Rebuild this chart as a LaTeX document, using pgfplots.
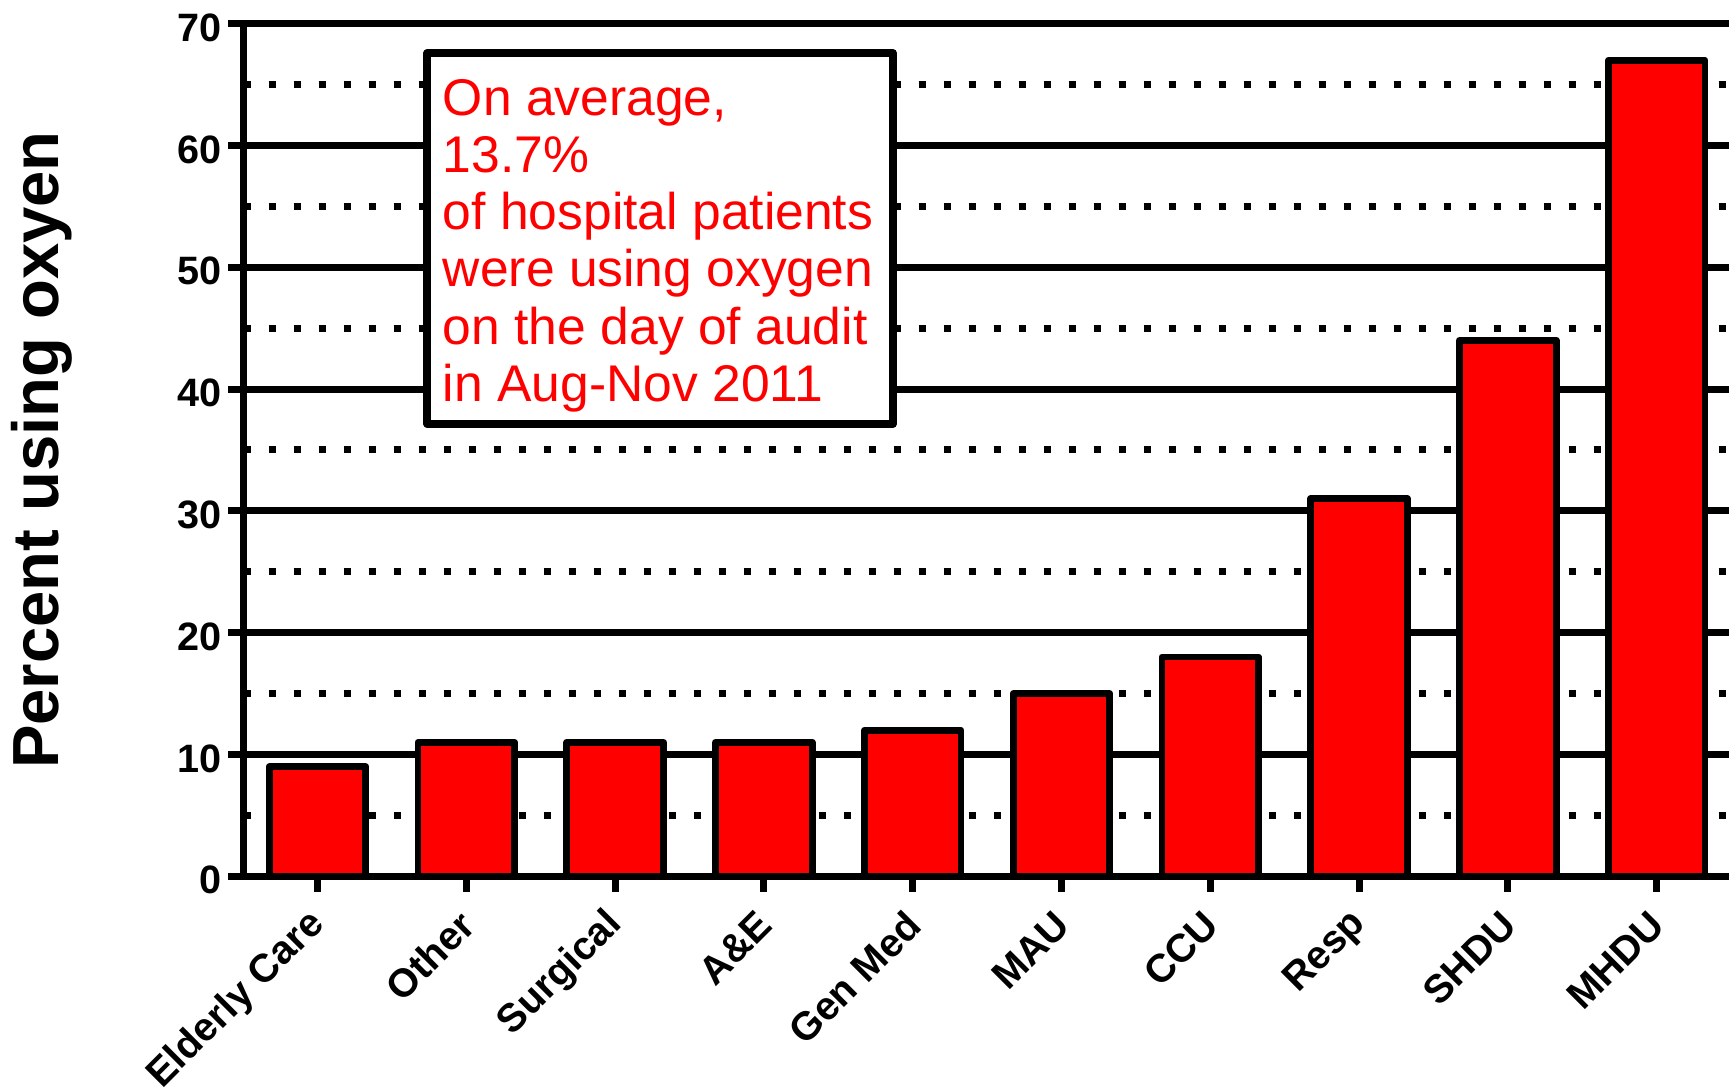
\documentclass[border=0pt]{standalone}
\usepackage{fontspec}
\setmainfont{Liberation Sans}
\usepackage{pgfplots}
\pgfplotsset{compat=1.18}

\begin{document}
\begin{tikzpicture}
\begin{axis}[
  scale only axis,
  width=742.65pt, height=426.3pt,
  xmin=-0.496, xmax=9.486, ymin=0, ymax=70,
  axis lines*=left,
  axis line style={line width=3.6pt, -},
  ytick={0,10,...,70},
  minor ytick={5,15,...,65},
  xtick={0,...,9},
  xticklabels={Elderly Care, Other, Surgical, A\&E, Gen Med, MAU, CCU, Resp, SHDU, MHDU},
  tick align=outside,
  major tick length=7.6pt,
  minor tick length=0pt,
  tick style={line width=3.5pt, black},
  ymajorgrids, yminorgrids,
  major grid style={line width=3.5pt, black},
  minor grid style={line width=3.5pt, black, dash pattern=on 3.5pt off 9pt},
  /pgf/number format/assume math mode=true,
  ticklabel style={font=\bfseries\fontsize{19.8}{20}\selectfont},
  yticklabel style={yshift=-2pt},
  xticklabel style={yshift=-11pt, xshift=3pt, rotate=45, anchor=east},
  ylabel={Percent using oxyen},
  every axis y label/.style={at={(axis description cs:-0.1244,0.5)}, rotate=90, anchor=base, font=\bfseries\fontsize{32.6}{34}\selectfont},
  clip=false,
]
\addplot[ybar, bar shift=0, bar width=0.65, fill=red, draw=black, line width=3.4pt, line join=round]
  coordinates {(0,9) (1,11) (2,11) (3,11) (4,12) (5,15) (6,18) (7,31) (8,44) (9,67)};

\draw[line width=3.6pt, fill=white, line join=round] (axis cs:0.736,67.6) rectangle (axis cs:3.868,37.13);
\begin{scope}[every node/.style={anchor=base west, inner sep=0pt, text=red, font=\fontsize{25.8}{28}\selectfont}]
\node at (axis cs:0.840,62.50) {On average,};
\node at (axis cs:0.840,57.80) {13.7\%};
\node at (axis cs:0.840,53.09) {of hospital patients};
\node at (axis cs:0.840,48.39) {were using oxygen};
\node at (axis cs:0.840,43.68) {on the day of audit};
\node at (axis cs:0.840,38.98) {in Aug-Nov 2011};
\end{scope}
\end{axis}
\pgfresetboundingbox
\path[use as bounding box] (-121.85pt,-107.35pt) rectangle (745.15pt,438.15pt);
\end{tikzpicture}
\end{document}
